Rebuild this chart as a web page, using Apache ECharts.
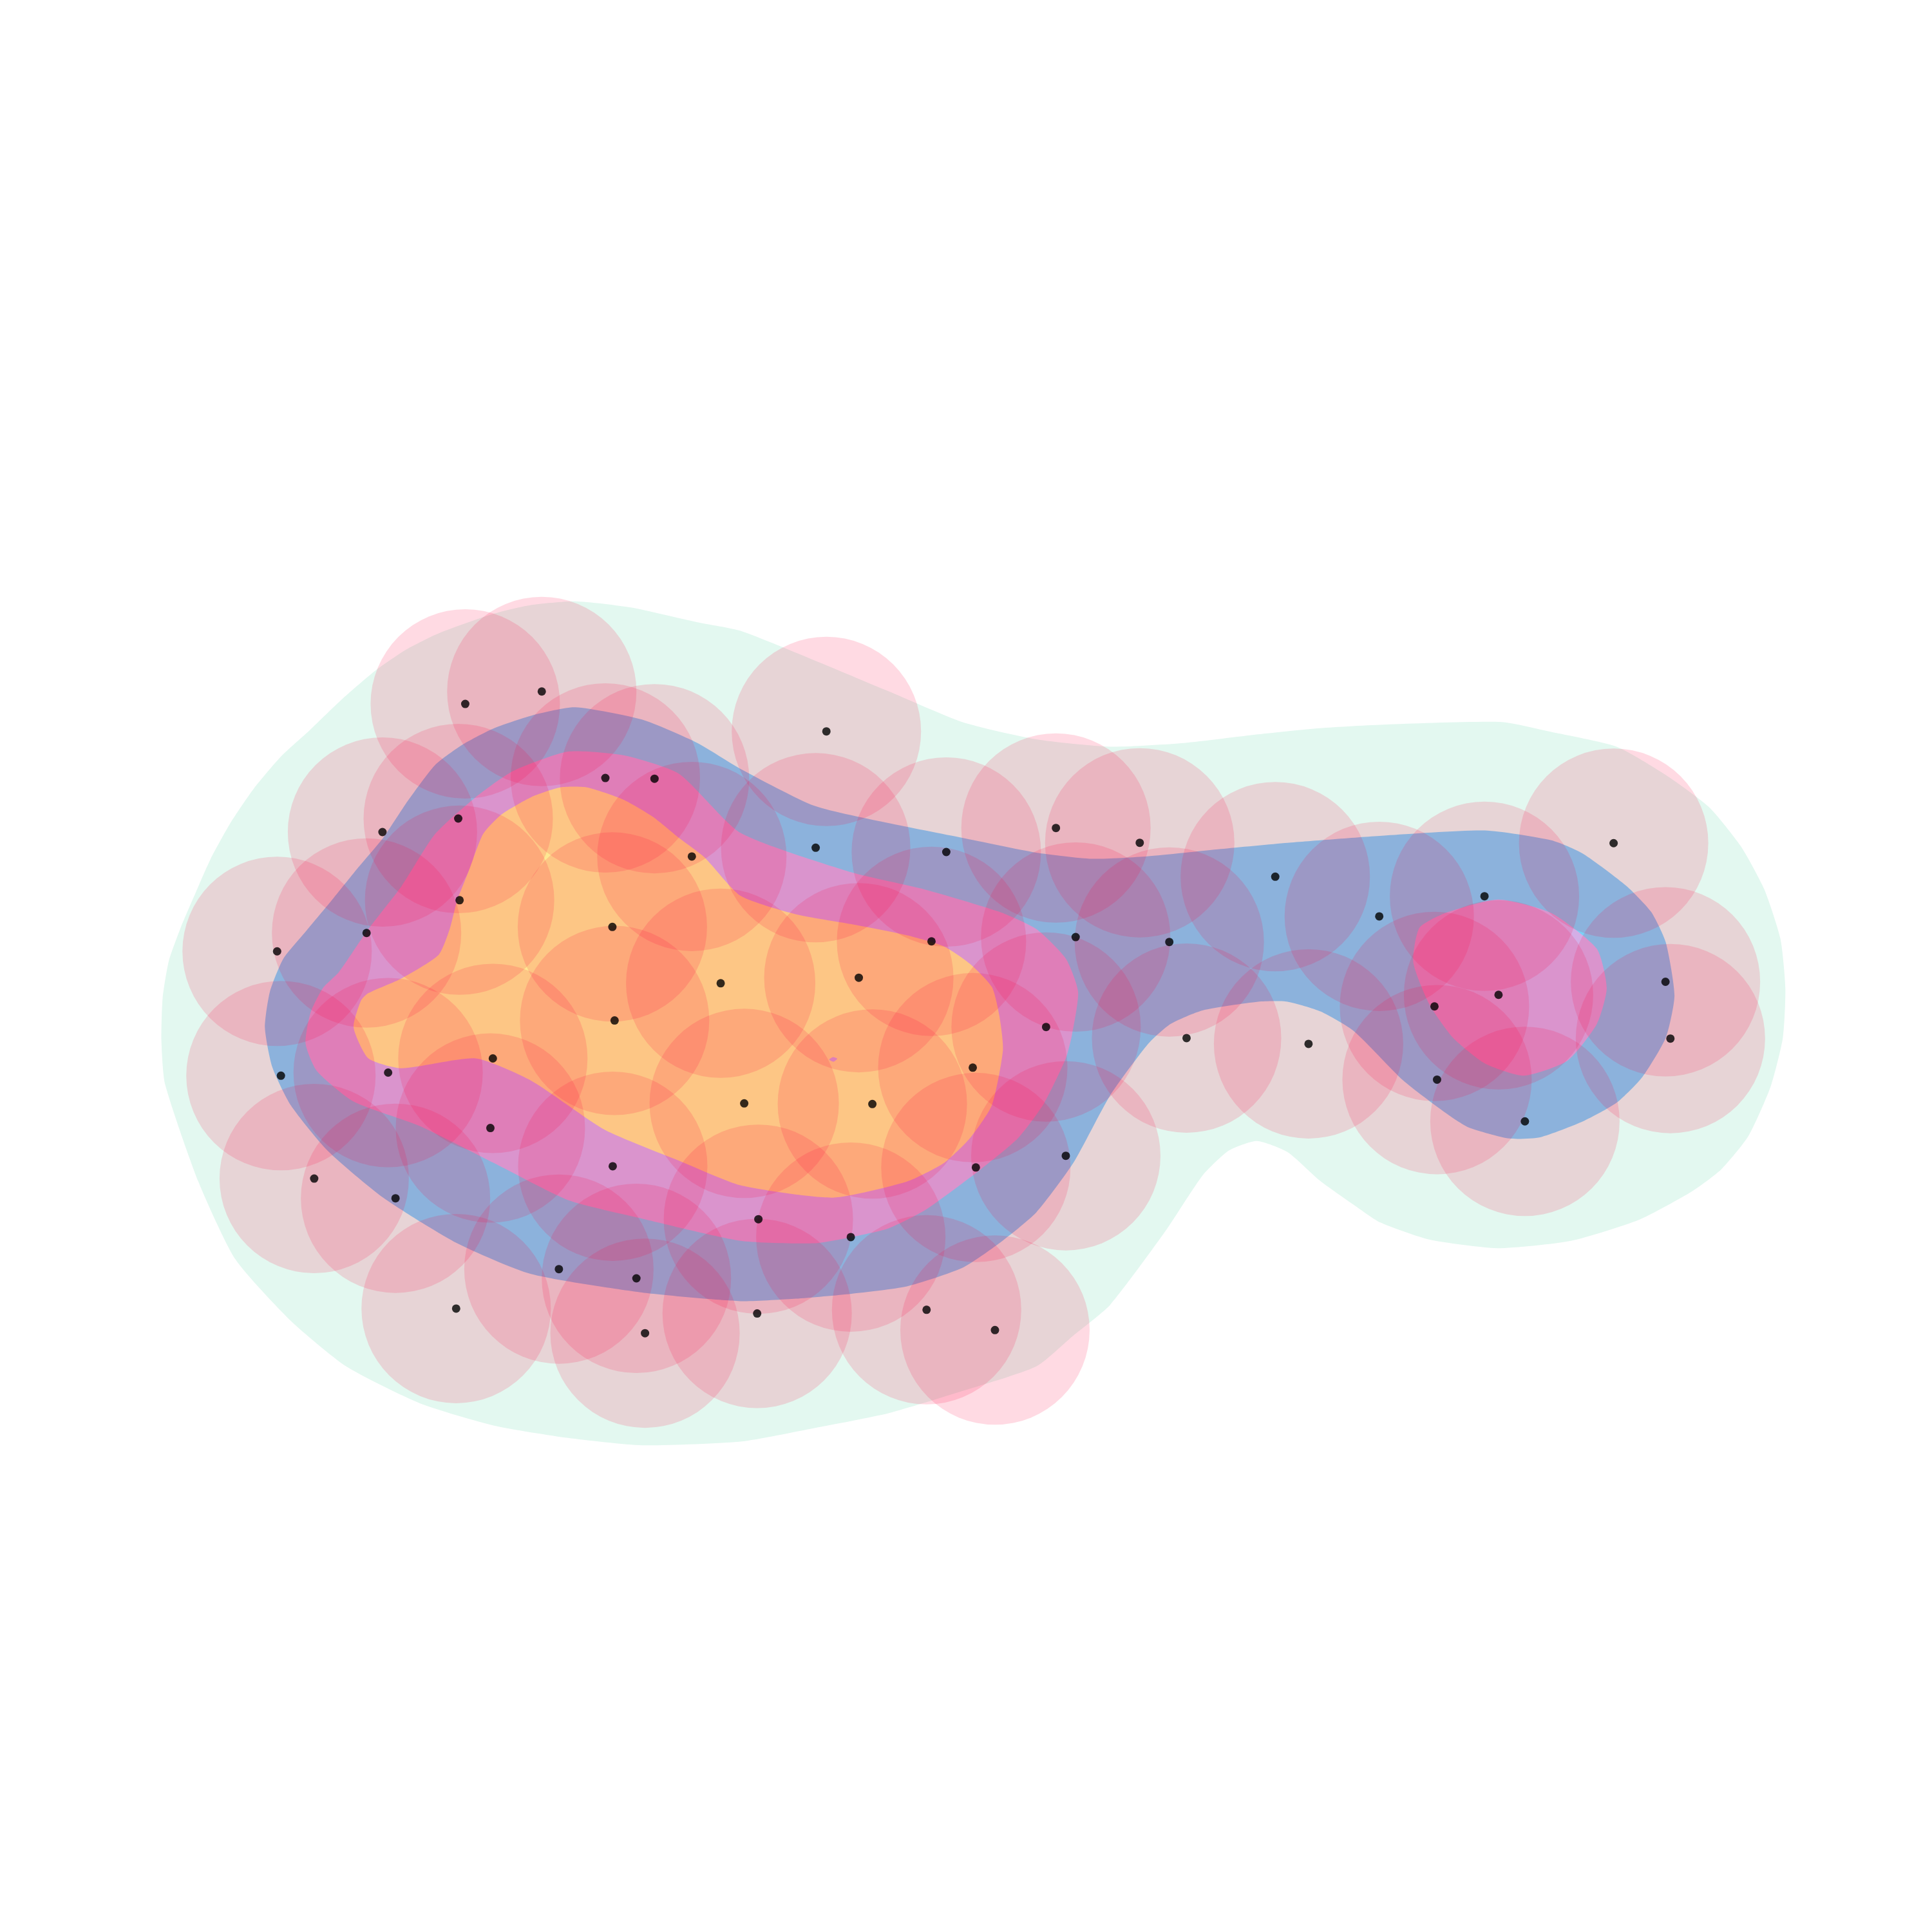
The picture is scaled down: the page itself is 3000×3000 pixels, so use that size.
<!DOCTYPE html>
<html><head><meta charset="utf-8">
<script src="https://cdn.jsdelivr.net/npm/echarts@6/dist/echarts.min.js"></script>
<style>html,body{margin:0;padding:0;background:#fff}#c{width:3000px;height:3000px}</style>
</head><body><div id="c"></div>
<script>
// sample positions (chart units, 0..1568 on both axes, y downward)
const pointX = [377.6,439.7,670.7,491.3,531.2,310.4,371.9,561.5,662,768,857,925,1035,1119.4,1204.8,1309.6,373,297.5,224.9,497,756,873,949,584.9,697,1351.7,1216.2,1164.2,498.8,849,963,1062,1355.7,400,315,228,789.5,1166.3,604,708,398,1237.6,865,497.3,792,255,321,615.5,690.5,453.6,516.5,370.2,614.5,752,807.5,523.5];
const pointY = [571.3,561.2,593.6,631.4,632,675.3,664.3,695.1,688,691.5,672,684,711.5,743.7,727.4,684.3,730.6,757.2,772.1,752.3,764,760.5,764.5,798,793.5,796.8,807.4,816.8,828.2,833.5,842.5,847.2,842.9,859,870.5,873,866.5,876.2,895.5,896,915.5,910.1,938,946.5,947.5,956.5,972.5,989.5,1004,1030,1037.5,1062,1066,1063,1079.5,1082];

// density contour outlines, lowest level first
const mintOutline = [[134,880],[131,845],[132,810],[137,780],[147,752],[159,724],[171,697],[187,668],[206,640],[228,614],[252,592],[277,568],[305,544],[330,527],[356,514],[401,498],[431,491],[467,488],[512,493],[566,505],[601,512],[661,536],[721,561],[781,586],[841,600],[901,606],[961,603],[1021,596],[1071,591],[1125,588],[1219,586],[1259,594],[1312,606],[1352,629],[1387,655],[1413,687],[1432,722],[1445,762],[1449,802],[1447,842],[1437,882],[1419,922],[1397,949],[1373,967],[1330,990],[1275,1007],[1215,1013],[1160,1006],[1120,992],[1099,978],[1071,958],[1045,935],[1020,926],[997,934],[976,954],[946,999],[901,1059],[871,1084],[841,1109],[781,1129],[721,1147],[661,1159],[601,1170],[521,1173],[461,1167],[401,1157],[341,1139],[281,1109],[236,1072],[191,1022],[161,959]];
const blueOutline = [[221,866],[215,834],[219,805],[230,778],[249,755],[269,731],[290,705],[311,680],[331,650],[353,621],[376,604],[401,591],[434,580],[467,574],[521,584],[566,603],[601,624],[661,654],[721,668],[781,680],[841,692],[886,697],[931,695],[991,689],[1045,684],[1125,678],[1205,674],[1259,682],[1285,693],[1320,719],[1340,740],[1352,765],[1359,808],[1352,842],[1333,874],[1312,895],[1285,910],[1250,923],[1225,924],[1192,915],[1173,903],[1139,877],[1099,837],[1072,821],[1045,813],[1021,813],[976,820],[950,831],[932,847],[901,889],[871,944],[841,984],[811,1009],[781,1029],[736,1044],[691,1050],[646,1054],[601,1056],[521,1049],[431,1034],[371,1009],[311,972],[266,934],[236,897]];
const pinkOutlineLeft = [[248,847],[252,822],[262,802],[275,789],[299,754],[326,719],[353,677],[386,647],[416,626],[461,610],[506,613],[551,628],[601,676],[691,708],[751,722],[811,740],[841,754],[865,778],[875,805],[870,840],[865,859],[847,896],[826,924],[796,949],[751,982],[721,997],[691,1004],[661,1009],[601,1007],[521,989],[461,974],[401,944],[341,914],[287,894],[257,869]];
const pinkOutlineRight = [[1152,753],[1173,741],[1216,730],[1259,741],[1296,770],[1304,802],[1296,831],[1272,861],[1237,873],[1205,863],[1179,842],[1160,815],[1147,781]];
const orangeOutline = [[287,834],[293,812],[299,806],[326,794],[356,775],[365,754],[371,731],[380,708],[392,677],[407,661],[431,647],[455,639],[476,639],[506,649],[530,663],[551,680],[572,696],[601,727],[646,742],[691,750],[736,759],[766,768],[787,782],[805,801],[811,824],[814,852],[805,897],[787,924],[766,944],[736,959],[676,972],[601,962],[551,942],[491,917],[431,877],[386,859],[326,867],[299,859]];
const pinkOutlineSpot = [[673,860],[676,858],[679.5,859.2],[676.5,861.6]];

const contourShapes = [
  {outline: mintOutline, color: '#e3f8f0'},
  {outline: blueOutline, color: '#79d1f7'},
  {outline: pinkOutlineLeft, color: '#d4aee6'},
  {outline: pinkOutlineRight, color: '#d4aee6'},
  {outline: orangeOutline, color: '#fde892'},
  {outline: pinkOutlineSpot, color: '#d4aee6'}
];

const chart = echarts.init(document.getElementById('c'), null, {renderer: 'canvas'});
chart.setOption({
  animation: false,
  backgroundColor: '#ffffff',
  grid: {left: 0, right: 0, top: 0, bottom: 0},
  xAxis: {type: 'value', min: 0, max: 1568, show: false},
  yAxis: {type: 'value', min: 0, max: 1568, inverse: true, show: false},
  series: [
    {
      type: 'custom', coordinateSystem: 'cartesian2d', silent: true, z: 1,
      data: contourShapes.map((s, i) => [i, 0]),
      renderItem: (params, api) => {
        const s = contourShapes[params.dataIndex];
        return {
          type: 'polygon',
          shape: {points: s.outline.map(p => api.coord(p)), smooth: 0.2},
          style: {fill: s.color}
        };
      }
    },
    {type: 'scatter', silent: true, z: 2, data: pointX.map((x, i) => [x, pointY[i]]), symbolSize: 294, itemStyle: {color: 'rgba(255,0,60,0.18)'}},
    {type: 'scatter', silent: true, z: 3, data: pointX.map((x, i) => [x, pointY[i]]), symbolSize: 13, itemStyle: {color: '#000000'}}
  ]
});
</script></body></html>
